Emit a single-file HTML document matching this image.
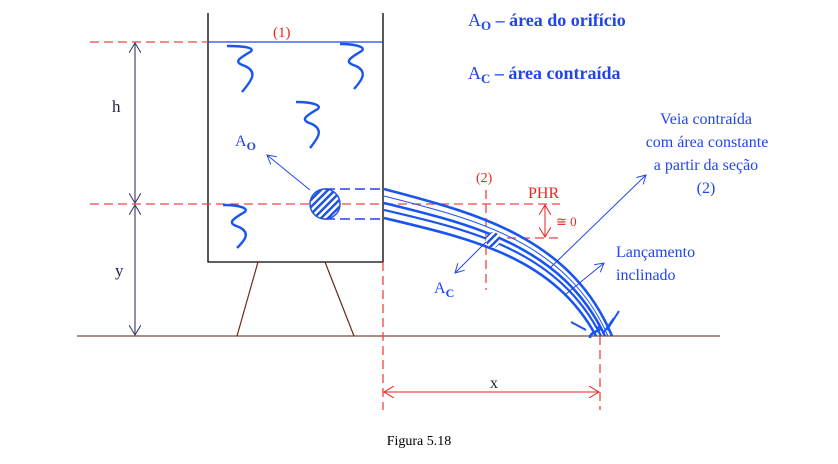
<!DOCTYPE html>
<html><head><meta charset="utf-8"><style>
html,body{margin:0;padding:0;background:#fff;}
svg{display:block;}
text{font-family:"Liberation Serif",serif;}
</style></head><body>
<svg width="838" height="464" viewBox="0 0 838 464" xmlns="http://www.w3.org/2000/svg">
<defs>
<marker id="ab" markerWidth="10" markerHeight="10" refX="9" refY="5" orient="auto" markerUnits="userSpaceOnUse"><path d="M0,0 L9,5 L0,10" fill="none" stroke="#2244ee" stroke-width="1"/></marker>
<marker id="ak" markerWidth="12" markerHeight="12" refX="10" refY="6" orient="auto-start-reverse" markerUnits="userSpaceOnUse"><path d="M0,0 L10,6 L0,12" fill="none" stroke="#333366" stroke-width="1"/></marker>
<marker id="ar" markerWidth="12" markerHeight="12" refX="10" refY="6" orient="auto-start-reverse" markerUnits="userSpaceOnUse"><path d="M0,0 L10,6 L0,12" fill="none" stroke="#ee2222" stroke-width="1"/></marker>
<pattern id="hatch" width="5" height="5" patternUnits="userSpaceOnUse" patternTransform="rotate(45)"><rect width="5" height="5" fill="#fff"/><rect width="2.5" height="5" fill="#2255dd"/></pattern>
</defs>
<line x1="77" y1="336" x2="720" y2="336" stroke="#7a4a3a" stroke-width="1.3"/>
<path d="M208,13 V262 H383 V13" fill="none" stroke="#000" stroke-width="1.3"/>
<line x1="258" y1="262" x2="237" y2="336" stroke="#6a2a1a" stroke-width="1.2"/>
<line x1="325" y1="262" x2="354" y2="336" stroke="#6a2a1a" stroke-width="1.2"/>
<line x1="208" y1="42" x2="383" y2="42" stroke="#2244ee" stroke-width="1.2"/>
<text x="273" y="37" fill="#ee2222" font-size="15">(1)</text>
<g stroke="#ee4444" stroke-width="1.3" stroke-dasharray="9,5" fill="none">
<line x1="90" y1="42" x2="208" y2="42"/>
<line x1="90" y1="204" x2="560" y2="204"/>
<line x1="507" y1="238" x2="560" y2="238"/>
<line x1="486" y1="190" x2="486" y2="290"/>
<line x1="383" y1="262" x2="383" y2="410"/>
<line x1="600" y1="336" x2="600" y2="410"/>
</g>
<line x1="135" y1="43" x2="135" y2="203" stroke="#555577" stroke-width="1.3" marker-start="url(#ak)" marker-end="url(#ak)"/>
<line x1="135" y1="205" x2="135" y2="335" stroke="#555577" stroke-width="1.3" marker-start="url(#ak)" marker-end="url(#ak)"/>
<text x="112" y="112" font-size="17" fill="#222244">h</text>
<text x="115" y="276" font-size="17" fill="#222244">y</text>
<line x1="384" y1="392" x2="599" y2="392" stroke="#ee2222" stroke-width="1" marker-start="url(#ar)" marker-end="url(#ar)"/>
<text x="490" y="388" font-size="16" fill="#222">x</text>
<line x1="545" y1="205" x2="545" y2="237" stroke="#ee2222" stroke-width="1" marker-start="url(#ar)" marker-end="url(#ar)"/>
<text x="556" y="226" font-size="13" fill="#ee2222">≅ 0</text>
<text x="528" y="198" font-size="16" fill="#ee2222">PHR</text>
<text x="476" y="182" font-size="14" fill="#ee2222">(2)</text>
<g fill="none" stroke="#1a55ee" stroke-width="2.4" stroke-linejoin="round">
<path d="M227,46 C245,46 256,48 250,52 C240,58 232,62 245,66 C258,72 252,80 242,92"/>
<path d="M340,44 C358,44 368,48 360,52 C350,58 343,62 356,66 C368,72 362,80 354,89"/>
<path d="M296,102 C314,102 324,106 316,110 C306,116 299,120 312,124 C324,130 318,138 310,148"/>
<path d="M223,205 C241,205 251,209 243,213 C233,219 226,223 239,227 C251,233 245,240 237,248"/>
</g>
<circle cx="325" cy="204" r="15" fill="url(#hatch)" stroke="#2255dd" stroke-width="1.5"/>
<g stroke="#2244ee" stroke-width="1.5" stroke-dasharray="10,5">
<line x1="325" y1="189" x2="383" y2="189"/>
<line x1="325" y1="219" x2="383" y2="219"/>
</g>
<g fill="none" stroke="#1a55ee">
<path d="M384,189 C470,212 570,235 612,336" stroke-width="2.6"/>
<path d="M384,196 C470,218 566,240 608,336" stroke-width="1"/>
<path d="M384,203 C470,224 562,245 605,336" stroke-width="2.6"/>
<path d="M384,210 C470,230 558,250 601,336" stroke-width="2.2"/>
<path d="M384,218 C468,238 553,256 596,336" stroke-width="2.6"/>
<path d="M590,338 C590,330 605,332 598,326" stroke-width="2.6"/>
<path d="M571,322 L586,330 M614,318 L604,332 M619,311 L607,330" stroke-width="2"/>
</g>
<ellipse cx="493" cy="240" rx="7" ry="8" fill="url(#hatch)"/>
<line x1="310" y1="190" x2="267" y2="155" stroke="#2244ee" stroke-width="1" marker-end="url(#ab)"/>
<text x="235" y="146" font-size="16" fill="#2244ee">A<tspan font-size="12" dy="4" font-weight="bold">O</tspan></text>
<line x1="486" y1="242" x2="455" y2="273" stroke="#2244ee" stroke-width="1" marker-end="url(#ab)"/>
<text x="434" y="293" font-size="16" fill="#2244ee">A<tspan font-size="12" dy="4" font-weight="bold">C</tspan></text>
<line x1="550" y1="268" x2="646" y2="175" stroke="#2244ee" stroke-width="1" marker-end="url(#ab)"/>
<line x1="566" y1="294" x2="604" y2="263" stroke="#2244ee" stroke-width="1" marker-end="url(#ab)"/>
<g fill="#2244ee" font-size="16" text-anchor="middle">
<text x="706" y="124">Veia contraída</text>
<text x="707" y="147">com área constante</text>
<text x="706" y="170">a partir da seção</text>
<text x="706" y="193">(2)</text>
</g>
<text x="616" y="257" font-size="16" fill="#2244ee">Lançamento</text>
<text x="616" y="280" font-size="16" fill="#2244ee">inclinado</text>
<text x="468" y="26" font-size="18" fill="#2244ee">A<tspan font-size="13" dy="4" font-weight="bold">O</tspan><tspan dy="-4" font-weight="bold"> – área do orifício</tspan></text>
<text x="468" y="79" font-size="18" fill="#2244ee">A<tspan font-size="13" dy="4" font-weight="bold">C</tspan><tspan dy="-4" font-weight="bold"> – área contraída</tspan></text>
<text x="419" y="445" font-size="14" fill="#000" text-anchor="middle">Figura 5.18</text>
</svg>
</body></html>
